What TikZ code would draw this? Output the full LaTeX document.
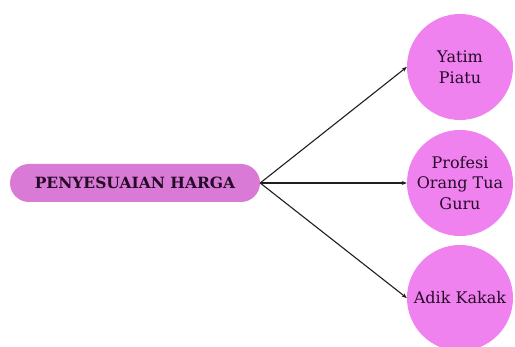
\documentclass[tikz,border=0pt]{standalone}
\usepackage{fontspec}
\setmainfont{DejaVu Serif}
\usetikzlibrary{arrows.meta}
\definecolor{boxfill}{RGB}{216,122,214}
\definecolor{circfill}{RGB}{240,130,240}
\definecolor{inktext}{RGB}{38,10,40}
\definecolor{inkline}{RGB}{30,30,30}
\tikzset{
  hub/.style={draw=none, fill=boxfill, rounded corners=19pt, minimum width=250pt,
    minimum height=38pt, inner sep=0pt, text=inktext,
    font=\fontsize{15.5}{18}\selectfont\bfseries},
  leaf/.style={circle, draw=none, fill=circfill, minimum size=106pt, inner sep=0pt,
    text=inktext, align=center, font=\fontsize{16}{20.5}\selectfont},
  link/.style={draw=inkline, line width=1.1pt, -{Stealth[length=5pt,width=4pt]}}
}
\begin{document}
\begin{tikzpicture}[x=1pt,y=1pt]
  \useasboundingbox (0,0) rectangle (515,347);
  \node[hub] (hub) at (135,164) {PENYESUAIAN HARGA};
  \node[leaf] (yatim) at (460,280) {Yatim\\Piatu};
  \node[leaf] (profesi) at (460,164) {Profesi\\Orang Tua\\Guru};
  \node[leaf] (adik) at (460,49) {Adik Kakak};
  \draw[link] (hub.east) -- (yatim.west);
  \draw[link] (hub.east) -- (profesi.west);
  \draw[link] (hub.east) -- (adik.west);
\end{tikzpicture}
\end{document}
